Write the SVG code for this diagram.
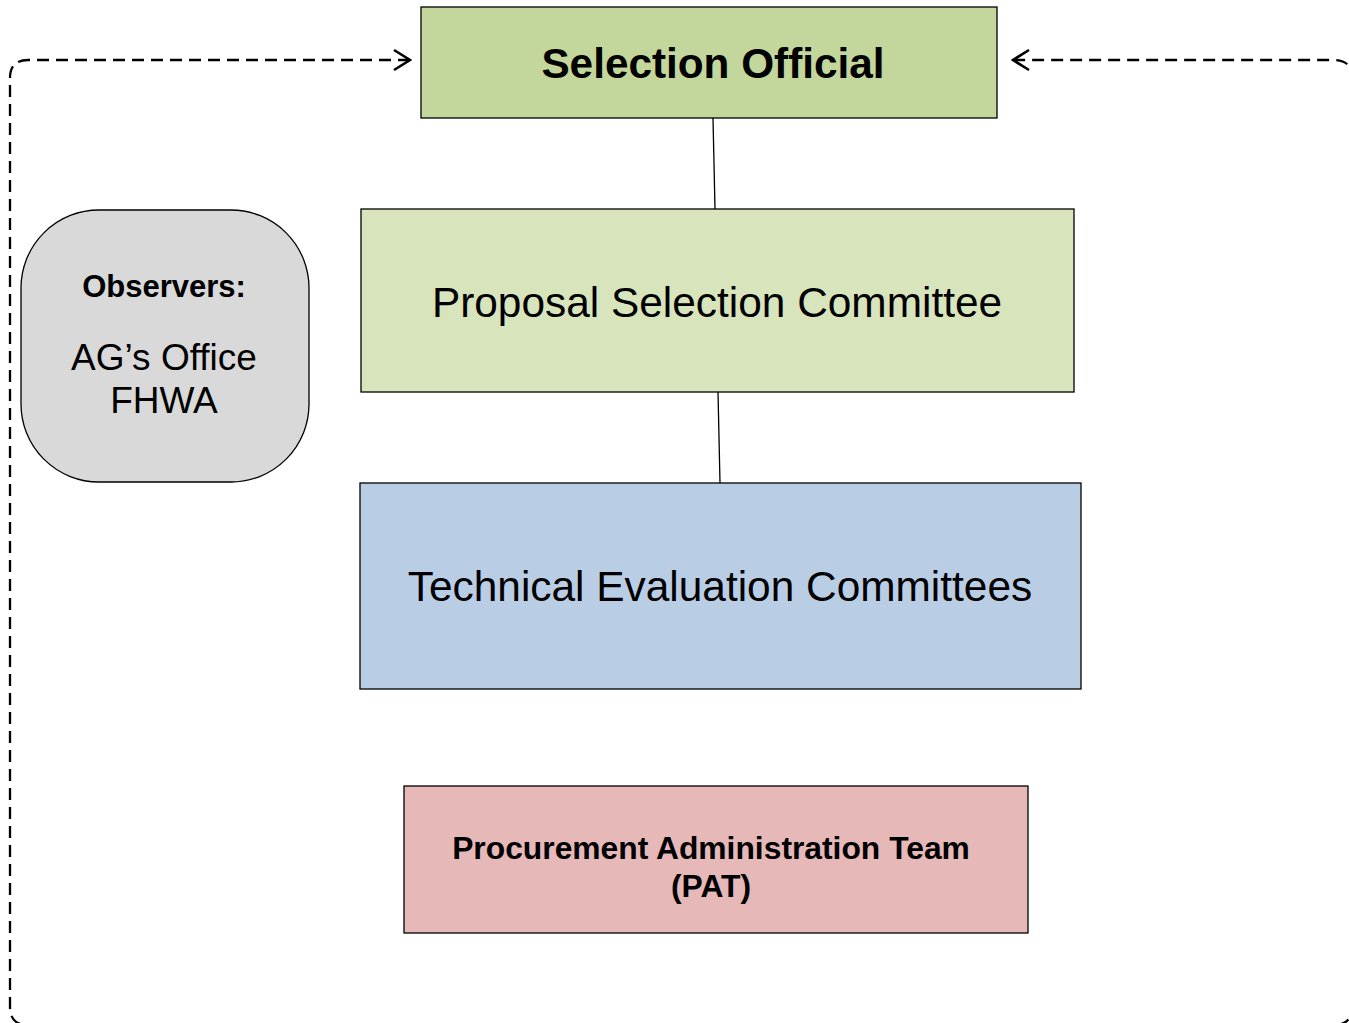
<svg xmlns="http://www.w3.org/2000/svg" width="1349" height="1023" viewBox="0 0 1349 1023">
<style>
.box{stroke:#000;stroke-width:1.3}
.t{font-family:"Liberation Sans",Arial,sans-serif;fill:#000;text-anchor:middle}
.b{font-weight:bold}
.conn{stroke:#000;stroke-width:1.3;fill:none}
.dash{stroke:#000;stroke-width:2.3;fill:none;stroke-dasharray:12 7}
</style>
<defs>
<marker id="open" viewBox="0 0 20 24" refX="18" refY="12" markerWidth="20" markerHeight="24" markerUnits="userSpaceOnUse" orient="auto-start-reverse">
<path d="M2,2 L18,12 L2,22" fill="none" stroke="#000" stroke-width="2.6"/>
</marker>
</defs>
<rect width="1349" height="1023" fill="#fff"/>
<g id="connectors">
<line class="conn" x1="713" y1="118" x2="715" y2="209"/>
<line class="conn" x1="718" y1="392" x2="720" y2="483"/>
<path class="dash" d="M410,60 H28 Q10,60 10,78 V1007 Q10,1025 28,1025 H1334 Q1352,1025 1352,1007 V78 Q1352,60 1334,60 H1013" marker-start="url(#open)" marker-end="url(#open)"/>
</g>
<g id="selection-official">
<rect class="box" x="421" y="7" width="576" height="111" fill="#C3D69B"/>
<text class="t b" x="713" y="78" font-size="42.3">Selection Official</text>
</g>
<g id="proposal-selection-committee">
<rect class="box" x="361" y="209" width="713" height="183" fill="#D8E4BC"/>
<text class="t" x="717" y="317" font-size="42.4">Proposal Selection Committee</text>
</g>
<g id="technical-evaluation-committees">
<rect class="box" x="360" y="483" width="721" height="206" fill="#B9CDE5"/>
<text class="t" x="720" y="601" font-size="42.4">Technical Evaluation Committees</text>
</g>
<g id="pat">
<rect class="box" x="404" y="786" width="624" height="147" fill="#E6B8B7"/>
<text class="t b" x="711" y="859" font-size="31.8">Procurement Administration Team</text>
<text class="t b" x="711" y="897" font-size="31.8">(PAT)</text>
</g>
<g id="observers">
<rect class="box" x="21" y="210" width="288" height="272" rx="78" ry="78" fill="#D9D9D9"/>
<text class="t b" x="164" y="297" font-size="31">Observers:</text>
<text class="t" x="164" y="370" font-size="37">AG’s Office</text>
<text class="t" x="164" y="413" font-size="37">FHWA</text>
</g>
</svg>
